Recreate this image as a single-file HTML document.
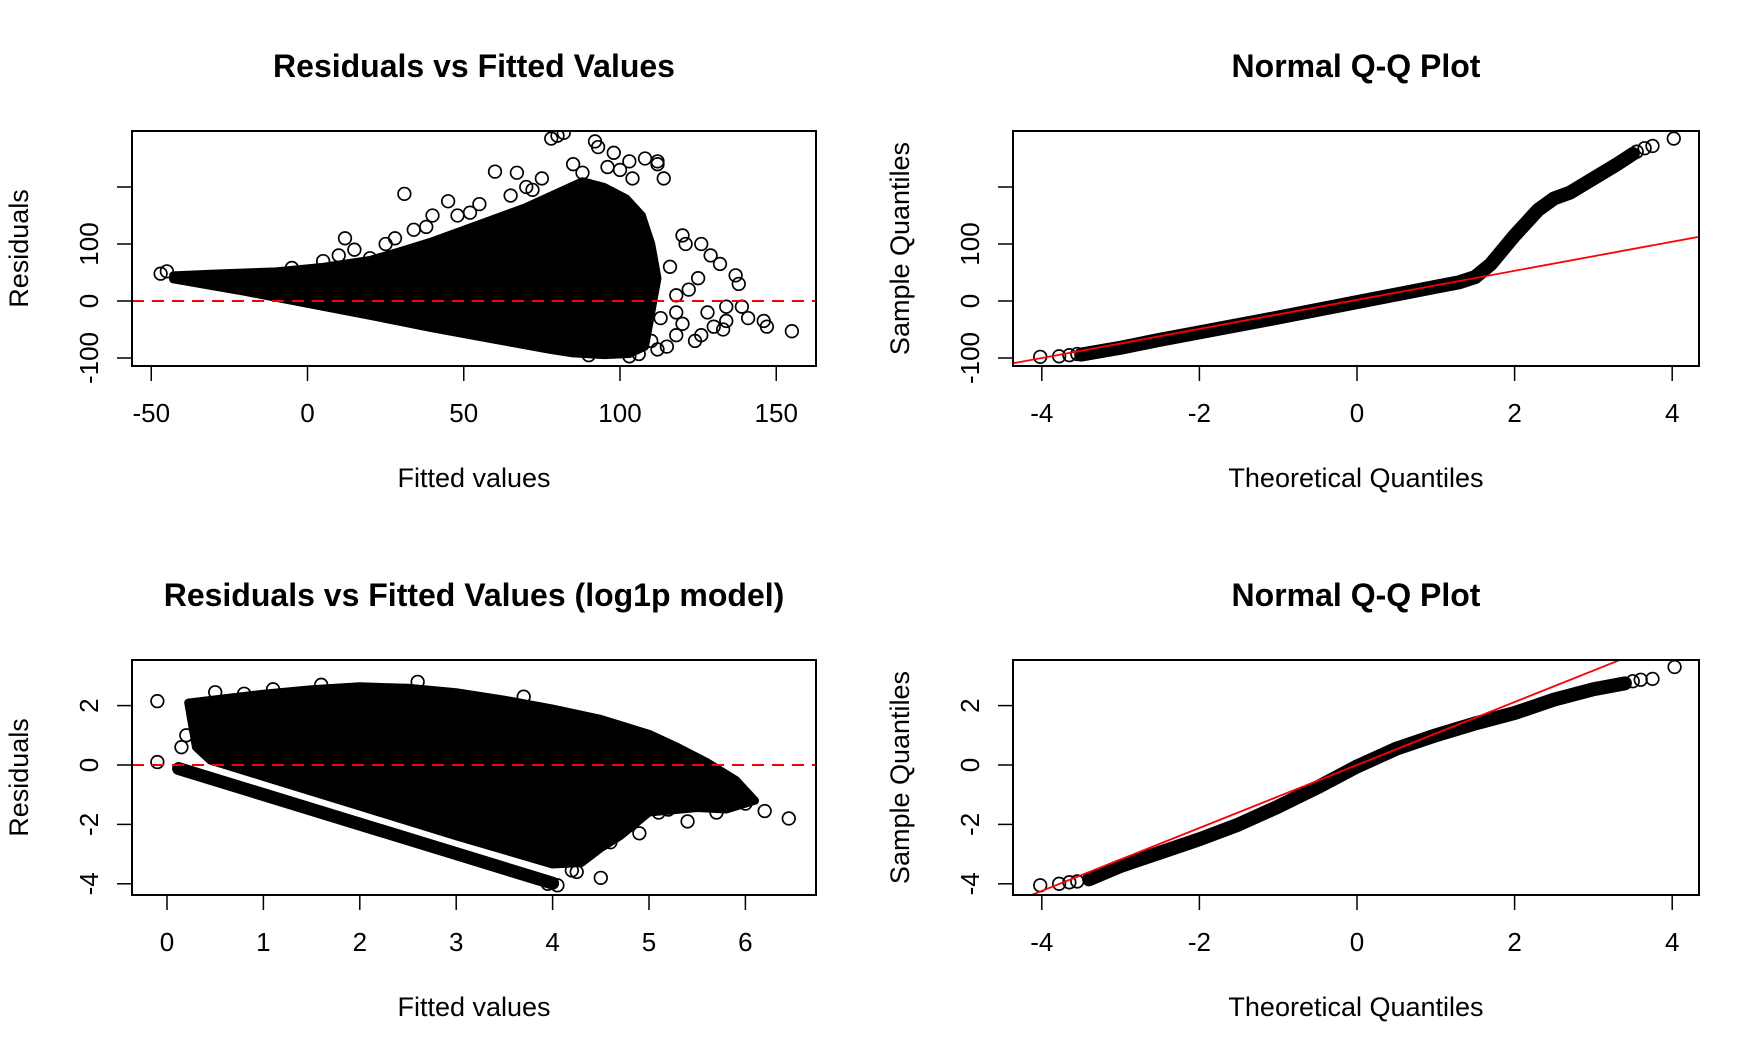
<!DOCTYPE html>
<html><head><meta charset="utf-8"><style>
html,body{margin:0;padding:0;background:#fff}
svg{display:block;font-family:"Liberation Sans",Arial,sans-serif}
</style></head><body>
<svg id="c" width="1764" height="1056" viewBox="0 0 1764 1056"></svg>
<script>
// ---- Panel 1: residuals vs fitted (linear model)
const p1CloudFitted = [-43,-30,-10,5,20,30,40,50,60,70,80,88,95,102,107,110,112,110,108,103,95,85,78,60,40,20,0,-20,-43];
const p1CloudResid  = [45,48,52,60,72,88,105,125,145,165,190,210,200,180,150,100,40,-20,-80,-93,-95,-92,-86,-68,-48,-26,-5,16,38];
const p1OutFitted = [-47,-45,80,82,78,92,93,108,112,112,103,114,60,67,75,31,45,40,12,38,120,121,126,129,132,137,138,139,141,146,147,155,130,126,124,120,118,133,134,115,112,106,103,90,116,118,122,125,128,134,113,118,110,70,55,85,98,100,25,28,34,48,52,65,72,88,96,104,10,15,20,-5,5];
const p1OutResid  = [48,52,290,295,285,280,270,250,240,245,245,215,227,225,215,188,175,150,110,130,115,100,100,80,65,45,30,-10,-30,-35,-45,-53,-45,-60,-70,-40,-60,-50,-35,-80,-85,-93,-97,-95,60,10,20,40,-20,-10,-30,-20,-70,200,170,240,260,230,100,110,125,150,155,185,195,225,235,215,80,90,75,58,70];
const p1XTicks = [-50,0,50,100,150];
const p1YTicks = [-100,0,100,200];
const p1YLabels = ["-100","0","100",""];
// ---- Panel 2: normal QQ (linear model)
const p2Theo = [-3.5,-3.0,-2.5,-2.0,-1.0,0,1.0,1.3,1.5,1.7,2.0,2.3,2.5,2.7,3.0,3.3,3.5];
const p2Samp = [-94,-82,-68,-55,-29,-2,25,33,42,65,115,160,180,190,215,240,258];
const p2EndTheo = [-4.02,-3.78,-3.65,-3.55,3.55,3.65,3.75,4.02];
const p2EndSamp = [-98,-97,-95,-93,262,268,272,285];
const p2LineSlope = 25.5, p2LineIntercept = 2;
const p2XTicks = [-4,-2,0,2,4];
const p2YTicks = [-100,0,100,200];
const p2YLabels = ["-100","0","100",""];
// ---- Panel 3: residuals vs fitted (log1p model)
const p3CloudFitted = [0.22,0.6,1.0,1.5,2.0,2.5,3.0,3.5,4.0,4.5,5.0,5.3,5.6,5.9,6.1,5.8,5.5,5.0,4.7,4.5,4.3,4.0,3.0,2.0,1.0,0.45,0.3];
const p3CloudResid  = [2.1,2.25,2.4,2.55,2.65,2.6,2.45,2.2,1.9,1.55,1.05,0.6,0.1,-0.5,-1.2,-1.5,-1.45,-1.6,-2.4,-2.8,-3.3,-3.35,-2.4,-1.4,-0.4,0.15,0.6];
const p3BandFitted = [0.12,4.0];
const p3BandResid  = [-0.12,-3.98];
const p3OutFitted = [-0.1,-0.1,6.45,4.5,4.2,4.25,5.1,5.2,4.6,4.05,3.95,0.15,0.2,0.5,0.8,1.1,1.6,2.6,3.7,4.9,5.4,5.7,6.0,6.2,4.8];
const p3OutResid  = [2.15,0.1,-1.8,-3.8,-3.55,-3.6,-1.6,-1.5,-2.6,-4.05,-4.0,0.6,1.0,2.45,2.4,2.55,2.7,2.8,2.3,-2.3,-1.9,-1.6,-1.3,-1.55,-2.0];
const p3XTicks = [0,1,2,3,4,5,6];
const p3YTicks = [-4,-2,0,2];
// ---- Panel 4: normal QQ (log1p model)
const p4Theo = [-3.4,-3.0,-2.5,-2.0,-1.5,-1.0,-0.5,0,0.5,1.0,1.5,2.0,2.5,3.0,3.4];
const p4Samp = [-3.85,-3.4,-2.95,-2.5,-2.0,-1.4,-0.75,-0.05,0.55,1.0,1.4,1.75,2.2,2.55,2.75];
const p4EndTheo = [-4.02,-3.78,-3.65,-3.55,3.5,3.6,3.75,4.03];
const p4EndSamp = [-4.05,-4.0,-3.95,-3.92,2.82,2.87,2.9,3.3];
const p4LineSlope = 1.06, p4LineIntercept = 0.0;
const p4XTicks = [-4,-2,0,2,4];
const p4YTicks = [-4,-2,0,2];

const NS = "http://www.w3.org/2000/svg";
const svg = document.getElementById('c');
function mk(tag, attrs, parent){const e=document.createElementNS(NS,tag);for(const k in attrs)e.setAttribute(k,attrs[k]);(parent||svg).appendChild(e);return e;}

function panel(o){
  const g = mk('g',{});
  
  
  const sx = v => o.x0px + (v - o.x0) * o.xk;
  const sy = v => o.y0px - (v - o.y0) * o.yk;
  const cid = o.name + '-clip';
  const cp = mk('clipPath',{id:cid},g); mk('rect',{x:o.L,y:o.T,width:o.R-o.L,height:o.B-o.T},cp);
  const plot = mk('g',{'clip-path':'url(#'+cid+')'},g);
  
  
  if(o.cloudX){
    const pts = o.cloudX.map((v,i)=>sx(v)+','+sy(o.cloudY[i])).join(' ');
    const poly = mk('polygon',{points:pts,fill:'#000',stroke:'#000','stroke-width':8,'stroke-linejoin':'round'},plot);
    
    
  }
  if(o.bandX){
    const b = mk('line',{x1:sx(o.bandX[0]),y1:sy(o.bandY[0]),x2:sx(o.bandX[1]),y2:sy(o.bandY[1]),stroke:'#000','stroke-width':13,'stroke-linecap':'round'},plot);
    
    
  }
  if(o.qqX){
    const d = o.qqX.map((v,i)=>(i?'L':'M')+sx(v)+' '+sy(o.qqY[i])).join(' ');
    const p = mk('path',{d:d,fill:'none',stroke:'#000','stroke-width':14,'stroke-linejoin':'round','stroke-linecap':'round'},plot);
    
    
  }
  if(o.ptX){
    o.ptX.forEach((v,i)=>{
      const c = mk('circle',{cx:sx(v),cy:sy(o.ptY[i]),r:6.3,fill:'none',stroke:'#000','stroke-width':1.7},plot);
      
      
    });
  }
  if(o.hline){
    const l = mk('line',{x1:o.L,x2:o.R,y1:sy(0),y2:sy(0),stroke:'#ff0000','stroke-width':2,'stroke-dasharray':'12,8'},plot);
    
    
  }
  if(o.slope!==undefined){
    const xa=o.x0-10, xb=o.x0+20;
    const l = mk('line',{x1:sx(xa),y1:sy(o.icpt+o.slope*xa),x2:sx(xb),y2:sy(o.icpt+o.slope*xb),stroke:'#ff0000','stroke-width':1.8},plot);
    
    
  }
  const box = mk('rect',{x:o.L,y:o.T,width:o.R-o.L,height:o.B-o.T,fill:'none',stroke:'#000','stroke-width':2},g);
  
  
  const xa = mk('g',{},g);
  
  
  mk('line',{x1:sx(o.xt[0]),x2:sx(o.xt[o.xt.length-1]),y1:o.B,y2:o.B,stroke:'#000','stroke-width':1.5},xa);
  o.xt.forEach(v=>{
    mk('line',{x1:sx(v),x2:sx(v),y1:o.B,y2:o.B+15,stroke:'#000','stroke-width':1.5},xa);
    const t = mk('text',{x:sx(v),y:o.B+56,'font-size':26,'text-anchor':'middle'},xa);
    t.textContent = String(v);
    
    
  });
  const ya = mk('g',{},g);
  
  
  mk('line',{x1:o.L,x2:o.L,y1:sy(o.yt[0]),y2:sy(o.yt[o.yt.length-1]),stroke:'#000','stroke-width':1.5},ya);
  o.yt.forEach((v,i)=>{
    mk('line',{x1:o.L-15,x2:o.L,y1:sy(v),y2:sy(v),stroke:'#000','stroke-width':1.5},ya);
    const lab = o.yl ? o.yl[i] : String(v);
    if(lab){
      const t = mk('text',{x:0,y:0,'font-size':26,'text-anchor':'middle',transform:'translate('+(o.L-34)+','+sy(v)+') rotate(-90)'},ya);
      t.textContent = lab;
      
      
    }
  });
  const cx = (o.L+o.R)/2;
  const tt = mk('text',{x:cx,y:o.T-54,'font-size':32,'font-weight':'bold','text-anchor':'middle'},g);
  tt.textContent = o.title;
  
  
  const xt = mk('text',{x:cx,y:o.B+121,'font-size':27,'text-anchor':'middle'},g);
  xt.textContent = o.xlab;
  
  
  const yt = mk('text',{x:0,y:0,'font-size':27,'text-anchor':'middle',transform:'translate('+(o.L-104)+','+((o.T+o.B)/2)+') rotate(-90)'},g);
  yt.textContent = o.ylab;
  
  
}

panel({name:'residuals-vs-fitted-panel',L:132,R:816,T:131,B:366,x0:0,x0px:307.5,xk:3.125,y0:0,y0px:301,yk:0.57,
  cloudX:p1CloudFitted,cloudY:p1CloudResid,ptX:p1OutFitted,ptY:p1OutResid,hline:true,
  xt:p1XTicks,yt:p1YTicks,yl:p1YLabels,title:'Residuals vs Fitted Values',xlab:'Fitted values',ylab:'Residuals'});
panel({name:'normal-qq-panel',L:1013,R:1699,T:131,B:366,x0:0,x0px:1357,xk:78.8,y0:0,y0px:301,yk:0.57,
  qqX:p2Theo,qqY:p2Samp,ptX:p2EndTheo,ptY:p2EndSamp,slope:p2LineSlope,icpt:p2LineIntercept,
  xt:p2XTicks,yt:p2YTicks,yl:p2YLabels,title:'Normal Q-Q Plot',xlab:'Theoretical Quantiles',ylab:'Sample Quantiles'});
panel({name:'residuals-vs-fitted-log1p-panel',L:132,R:816,T:660,B:895,x0:0,x0px:167,xk:96.4,y0:0,y0px:765,yk:29.7,
  cloudX:p3CloudFitted,cloudY:p3CloudResid,bandX:p3BandFitted,bandY:p3BandResid,ptX:p3OutFitted,ptY:p3OutResid,hline:true,
  xt:p3XTicks,yt:p3YTicks,title:'Residuals vs Fitted Values (log1p model)',xlab:'Fitted values',ylab:'Residuals'});
panel({name:'normal-qq-log1p-panel',L:1013,R:1699,T:660,B:895,x0:0,x0px:1357,xk:78.8,y0:0,y0px:765,yk:29.7,
  qqX:p4Theo,qqY:p4Samp,ptX:p4EndTheo,ptY:p4EndSamp,slope:p4LineSlope,icpt:p4LineIntercept,
  xt:p4XTicks,yt:p4YTicks,title:'Normal Q-Q Plot',xlab:'Theoretical Quantiles',ylab:'Sample Quantiles'});
</script>
</body></html>
